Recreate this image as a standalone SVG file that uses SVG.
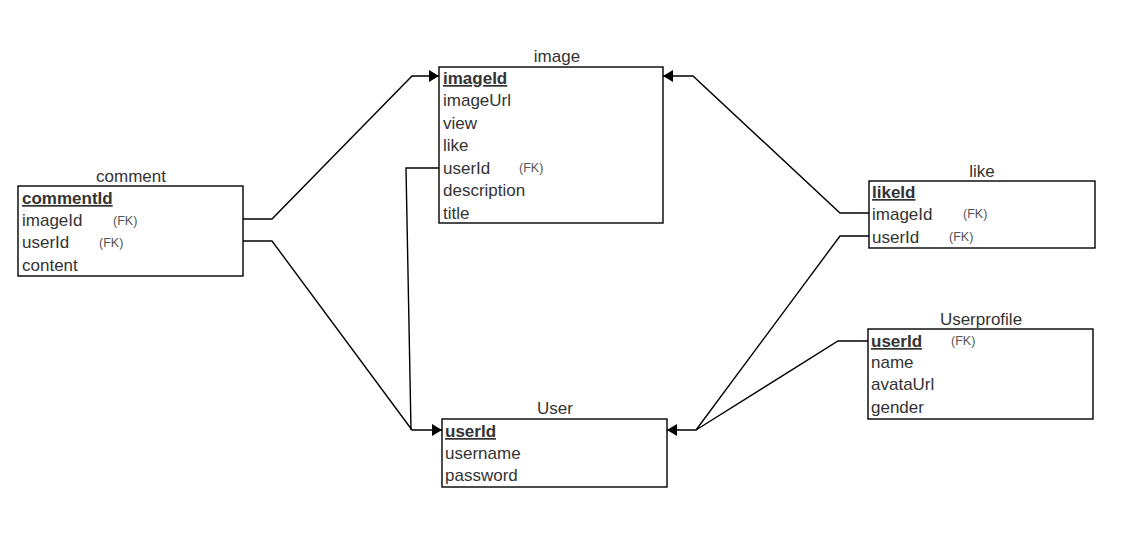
<svg xmlns="http://www.w3.org/2000/svg" width="1129" height="535" viewBox="0 0 1129 535">
<style>
.box{fill:#fff;stroke:#000;stroke-width:1.4}
.t{font-family:"Liberation Sans",Arial,sans-serif;font-size:17px;fill:#333}
.title{font-family:"Liberation Sans",Arial,sans-serif;font-size:17px;fill:#333;text-anchor:middle}
.pk{font-weight:bold;text-decoration:underline}
.fk{font-family:"Liberation Sans",Arial,sans-serif;font-size:12.5px;fill:#555}
.ln{fill:none;stroke:#000;stroke-width:1.4}
</style>
<defs>
<marker id="arr" viewBox="0 0 10 12" refX="10" refY="6" markerUnits="userSpaceOnUse" markerWidth="10" markerHeight="13" orient="auto">
<path d="M0,0 L10,6 L0,12 Z" fill="#000"/>
</marker>
</defs>
<rect width="1129" height="535" fill="#fff"/>
<g id="connectors">
<path class="ln" d="M243,219 H272 L412,76 H439" marker-end="url(#arr)"/>
<path class="ln" d="M243,241 H272 L412,430 H442" marker-end="url(#arr)"/>
<path class="ln" d="M439,168 H406 L411,430"/>
<path class="ln" d="M869,213 H840 L693,76 H663" marker-end="url(#arr)"/>
<path class="ln" d="M869,236 H840 L696,430 H667" marker-end="url(#arr)"/>
<path class="ln" d="M868,341 H838 L696,430"/>
</g>
<g id="comment">
<text class="title" x="131" y="182">comment</text>
<rect class="box" x="18" y="186" width="225" height="90"/>
<text class="t pk" x="22" y="204">commentId</text>
<text class="t" x="22" y="226">imageId</text><text class="fk" x="113" y="225">(FK)</text>
<text class="t" x="22" y="248">userId</text><text class="fk" x="99" y="247">(FK)</text>
<text class="t" x="22" y="271">content</text>
</g>
<g id="image">
<text class="title" x="557" y="62">image</text>
<rect class="box" x="439" y="67" width="224" height="156"/>
<text class="t pk" x="443" y="84">imageId</text>
<text class="t" x="443" y="106">imageUrl</text>
<text class="t" x="443" y="129">view</text>
<text class="t" x="443" y="151">like</text>
<text class="t" x="443" y="174">userId</text><text class="fk" x="519" y="172">(FK)</text>
<text class="t" x="443" y="196">description</text>
<text class="t" x="443" y="219">title</text>
</g>
<g id="user">
<text class="title" x="555" y="414">User</text>
<rect class="box" x="442" y="419" width="225" height="68"/>
<text class="t pk" x="445" y="437">userId</text>
<text class="t" x="445" y="459">username</text>
<text class="t" x="445" y="481">password</text>
</g>
<g id="like">
<text class="title" x="982" y="177">like</text>
<rect class="box" x="869" y="181" width="226" height="67"/>
<text class="t pk" x="872" y="198">likeId</text>
<text class="t" x="872" y="220">imageId</text><text class="fk" x="963" y="218">(FK)</text>
<text class="t" x="872" y="243">userId</text><text class="fk" x="949" y="241">(FK)</text>
</g>
<g id="userprofile">
<text class="title" x="981" y="325">Userprofile</text>
<rect class="box" x="868" y="329" width="225" height="90"/>
<text class="t pk" x="871" y="347">userId</text><text class="fk" x="951" y="345">(FK)</text>
<text class="t" x="871" y="368">name</text>
<text class="t" x="871" y="390">avataUrl</text>
<text class="t" x="871" y="413">gender</text>
</g>
</svg>
